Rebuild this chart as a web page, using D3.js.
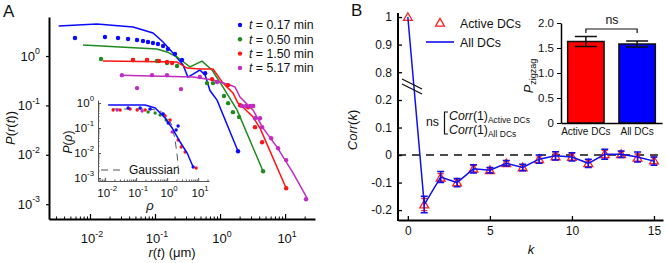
<!DOCTYPE html>
<html><head><meta charset="utf-8">
<script src="https://cdn.jsdelivr.net/npm/d3@7"></script>
<style>body{margin:0;background:#fff}svg{display:block;font-family:Arial,"Liberation Sans",sans-serif}</style>
</head><body><svg id="c" width="667" height="263"></svg>
<script>
// ---------------- DATA ----------------
const seriesLabels = ["0.17", "0.50", "1.50", "5.17"];
const seriesColors = ["#0a0aff", "#1f8a1f", "#ff1414", "#c02cc0"];
const lineR = [
  [0.0033,0.0128,0.046,0.093,0.133,0.189,0.27,0.32,0.385,0.49,0.59,0.70,0.90,1.89],
  [0.0078,0.107,0.153,0.218,0.345,0.528,0.753,1.11,1.83,4.59],
  [0.0158,0.218,0.31,0.49,0.78,1.11,1.58,1.89,2.26,3.22,4.12,10.4],
  [0.029,0.385,0.78,1.43,1.70,2.03,3.22,4.59,7.53,13.3,21.8]
];
const lineP = [
  [4.06,4.46,3.87,2.93,1.92,1.15,0.66,0.375,0.43,0.52,0.41,0.20,0.128,0.0118],
  [1.67,1.39,1.21,0.955,0.60,0.79,0.52,0.235,0.080,0.00465],
  [0.79,0.755,0.57,0.545,0.545,0.283,0.178,0.111,0.092,0.058,0.0347,0.0021],
  [0.41,0.375,0.326,0.258,0.235,0.147,0.080,0.0347,0.0143,0.00424,0.00132]
];
const dotR = [
  [0.00588,0.0170,0.0270,0.0385,0.0529,0.0653,0.078,0.093,0.111,0.133,0.158,0.203,0.26,0.59,1.89],
  [0.0148,0.0459,0.0753,0.107,0.153,0.218,0.63,0.78,1.15,1.33,1.58,1.96,4.59],
  [0.0459,0.0753,0.115,0.153,0.183,0.753,1.33,2.03,2.70,3.22,3.45,4.43,10.4],
  [0.031,0.0529,0.09,0.153,0.251,0.49,0.90,2.18,2.51,2.9,3.22,3.45,4.12,4.43,6.1,7.8,10.4,21]
];
const dotP = [
  [2.32,2.43,2.32,2.21,2.11,2.01,1.92,1.83,1.75,1.60,1.39,1.10,0.83,0.45,0.0118],
  [0.87,0.83,0.83,0.79,0.72,0.63,0.283,0.283,0.155,0.111,0.073,0.058,0.00465],
  [0.83,0.83,0.79,0.755,0.72,0.341,0.258,0.101,0.092,0.097,0.0363,0.018,0.0021],
  [0.41,0.224,0.41,0.41,0.214,0.375,0.297,0.097,0.097,0.097,0.097,0.055,0.055,0.0363,0.0217,0.0136,0.0078,0.00126]
];
const mainXTicks = [0.01, 0.1, 1, 10];
const mainYTicks = [0.001, 0.01, 0.1, 1];
const mainXExp = ["-2", "-1", "0", "1"];
const mainYExp = ["-3", "-2", "-1", "0"];

// inset (P(rho))
const insetLineRho = [0.0125,0.195,0.41,0.86,1.45,2.62,4.42,6.9];
const insetLineP   = [0.83,0.83,0.63,0.25,0.1,0.0275,0.01,0.00275];
const gaussRho = [0.0168,0.283,0.594,1.0,1.45,1.81,2.1,2.26];
const gaussP   = [0.575,0.575,0.48,0.30,0.12,0.033,0.0083,0.00275];
const insetDotRho = [0.0181,0.0305,0.064,0.108,0.195,0.86,1.25,2.26,2.83,3.8,8.6,
                     0.0552,0.135,0.283,0.743,1.08,1.95,2.26,6.9,
                     0.244,0.41,0.594,0.93,
                     0.0244,0.156,1.45];
const insetDotP = [0.525,0.525,0.575,0.525,0.525,0.30,0.209,0.033,0.0174,0.011,0.0025,
                   0.63,0.63,0.575,0.363,0.158,0.083,0.12,0.00275,
                   0.437,0.40,0.33,0.209,
                   0.525,0.48,0.069];
const insetDotSeries = [2,2,2,2,2,2,2,2,2,2,2, 0,0,0,0,0,0,0,0, 1,1,1,1, 3,3,3];
const insetTicks = [0.01, 0.1, 1, 10];
const insetYTicks = [0.001, 0.01, 0.1, 1];
const insetXExp = ["-2", "-1", "0", "1"];
const insetYExp = ["-3", "-2", "-1", "0"];

// panel B
const kVals = [0,1,2,3,4,5,6,7,8,9,10,11,12,13,14,15];
const corrAll    = [1.0,-0.18,-0.08,-0.10,-0.05,-0.055,-0.03,-0.045,-0.015,-0.003,-0.007,-0.03,0.003,0.003,-0.007,-0.022];
const errAll     = [0,0.03,0.02,0.015,0.015,0.01,0.01,0.012,0.015,0.015,0.015,0.015,0.018,0.012,0.018,0.015];
const corrActive = [1.0,-0.18,-0.082,-0.10,-0.05,-0.055,-0.03,-0.045,-0.015,-0.005,-0.007,-0.03,0.003,0.003,-0.01,-0.02];
const errActive  = [0,0.022,0.015,0.012,0.012,0.008,0.008,0.01,0.012,0.012,0.012,0.012,0.014,0.01,0.014,0.012];
const upperTicks = [0.8, 0.9, 1];
const lowerTicks = [-0.2, -0.1, 0, 0.1, 0.2];
const xTicksB = [0, 5, 10, 15];
const barCats = ["Active DCs", "All DCs"];
const barVals = [1.63, 1.58];
const barErr  = [0.10, 0.06];
const barColors = ["#ff0000", "#0000ff"];
const barTicks = [0, 0.5, 1.0, 1.5, 2.0];

// ---------------- DRAW ----------------
const svg = d3.select("#c");
svg.append("rect").attr("width", 667).attr("height", 263).attr("fill", "#fff");

function supLabel(g, x, y, base, exp, fs, anchor) {
  const t = g.append("text").attr("x", x).attr("y", y).attr("text-anchor", anchor)
    .attr("font-size", fs).attr("fill", "#111");
  t.append("tspan").text(base);
  t.append("tspan").attr("font-size", fs * 0.68).attr("dy", -fs * 0.48).text(exp);
  return t;
}
function minorLog(lo, hi) {
  const out = [];
  for (let e = -4; e <= 2; e++) for (let m = 2; m <= 9; m++) {
    const v = m * Math.pow(10, e);
    if (v > lo && v < hi) out.push(v);
  }
  return out;
}

// ---- Panel A main ----
const xA = d3.scaleLog().domain([Math.pow(10, -2.63), Math.pow(10, 1.46)]).range([49, 315]);
const yA = d3.scaleLog().domain([Math.pow(10, -3.3), Math.pow(10, 0.79)]).range([219, 17]);
const gA = svg.append("g");

const gxA = gA.append("g").attr("transform", "translate(0,219)")
  .call(d3.axisBottom(xA).tickValues(mainXTicks).tickSizeInner(-5).tickSizeOuter(0).tickFormat(""));
gxA.select(".domain").attr("stroke-width", 2);
gxA.selectAll(".tick line").attr("stroke-width", 1.2);
const gxAm = gA.append("g").attr("transform", "translate(0,219)")
  .call(d3.axisBottom(xA).tickValues(minorLog(xA.domain()[0], xA.domain()[1])).tickSizeInner(-2.5).tickSizeOuter(0).tickFormat(""));
gxAm.select(".domain").remove();

const gyA = gA.append("g").attr("transform", "translate(49,0)")
  .call(d3.axisLeft(yA).tickValues(mainYTicks).tickSizeInner(3).tickSizeOuter(0).tickFormat(""));
gyA.select(".domain").attr("stroke-width", 2);
gyA.selectAll(".tick line").attr("stroke-width", 1.2);

mainXTicks.forEach((v, i) => supLabel(gA, xA(v) + 2, 243, "10", mainXExp[i], 13, "middle"));
mainYTicks.forEach((v, i) => supLabel(gA, 40, yA(v) + 4.5, "10", mainYExp[i], 13, "end"));

// axis labels A
const ylabA = gA.append("text").attr("transform", "translate(15,128) rotate(-90)")
  .attr("text-anchor", "middle").attr("font-size", 13).attr("fill", "#111");
ylabA.append("tspan").attr("font-style", "italic").text("P");
ylabA.append("tspan").text("(");
ylabA.append("tspan").attr("font-style", "italic").text("r");
ylabA.append("tspan").text("(");
ylabA.append("tspan").attr("font-style", "italic").text("t");
ylabA.append("tspan").text("))");

const xlabA = gA.append("text").attr("x", 172).attr("y", 257)
  .attr("text-anchor", "middle").attr("font-size", 13).attr("fill", "#111");
xlabA.append("tspan").attr("font-style", "italic").text("r");
xlabA.append("tspan").text("(");
xlabA.append("tspan").attr("font-style", "italic").text("t");
xlabA.append("tspan").text(") (μm)");

gA.append("text").attr("x", 3).attr("y", 17).attr("font-size", 17).attr("fill", "#111").text("A");

// lines & dots
const lineA = d3.line().x(d => xA(d[0])).y(d => yA(d[1]));
seriesLabels.forEach((s, i) => {
  const pts = lineR[i].map((r, j) => [r, lineP[i][j]]);
  gA.append("path").attr("d", lineA(pts)).attr("fill", "none")
    .attr("stroke", seriesColors[i]).attr("stroke-width", 1.5);
});
seriesLabels.forEach((s, i) => {
  gA.append("g").selectAll("circle").data(dotR[i].map((r, j) => [r, dotP[i][j]])).join("circle")
    .attr("cx", d => xA(d[0])).attr("cy", d => yA(d[1])).attr("r", 2.2)
    .attr("fill", seriesColors[i]);
});

// legend A
seriesLabels.forEach((s, i) => {
  const y = 25 + i * 14.3;
  gA.append("circle").attr("cx", 240).attr("cy", y).attr("r", 2.2).attr("fill", seriesColors[i]);
  const t = gA.append("text").attr("x", 249).attr("y", y + 4.3).attr("font-size", 12.3).attr("fill", "#111");
  t.append("tspan").attr("font-style", "italic").text("t");
  t.append("tspan").text(" = " + s + " min");
});

// ---- Inset A ----
const xI = d3.scaleLog().domain([Math.pow(10, -2.23), Math.pow(10, 1.35)]).range([98, 209]);
const yI = d3.scaleLog().domain([Math.pow(10, -3.12), Math.pow(10, 0.12)]).range([181, 100]);
const gI = svg.append("g");
const gxI = gI.append("g").attr("transform", "translate(0,181)")
  .call(d3.axisBottom(xI).tickValues(insetTicks).tickSizeInner(-3).tickSizeOuter(0).tickFormat(""));
const gxIm = gI.append("g").attr("transform", "translate(0,181)")
  .call(d3.axisBottom(xI).tickValues(minorLog(xI.domain()[0], xI.domain()[1])).tickSizeInner(-1.5).tickSizeOuter(0).tickFormat(""));
gxIm.select(".domain").remove();
const gyI = gI.append("g").attr("transform", "translate(98,0)")
  .call(d3.axisLeft(yI).tickValues(insetYTicks).tickSizeInner(-3).tickSizeOuter(0).tickFormat(""));
const gyIm = gI.append("g").attr("transform", "translate(98,0)")
  .call(d3.axisLeft(yI).tickValues(minorLog(yI.domain()[0], yI.domain()[1])).tickSizeInner(-1.5).tickSizeOuter(0).tickFormat(""));
gyIm.select(".domain").remove();
gI.selectAll(".domain").attr("stroke", "#555").attr("stroke-width", 1);
gI.selectAll(".tick line").attr("stroke", "#555");

insetTicks.forEach((v, i) => supLabel(gI, xI(v) + 2, 197, "10", insetXExp[i], 11.5, "middle"));
insetYTicks.forEach((v, i) => supLabel(gI, 94, yI(v) + 4, "10", insetYExp[i], 11.5, "end"));

const ylabI = gI.append("text").attr("transform", "translate(72,142) rotate(-90)")
  .attr("text-anchor", "middle").attr("font-size", 12).attr("fill", "#111");
ylabI.append("tspan").attr("font-style", "italic").text("P");
ylabI.append("tspan").text("(");
ylabI.append("tspan").attr("font-style", "italic").text("ρ");
ylabI.append("tspan").text(")");
gI.append("text").attr("x", 150).attr("y", 210).attr("text-anchor", "middle")
  .attr("font-size", 13).attr("font-style", "italic").attr("fill", "#111").text("ρ");

const lineI = d3.line().x(d => xI(d[0])).y(d => yI(d[1]));
gI.append("path").attr("d", lineI(gaussRho.map((r, j) => [r, gaussP[j]])))
  .attr("fill", "none").attr("stroke", "#555").attr("stroke-width", 1).attr("stroke-dasharray", "7,5");
gI.append("g").selectAll("circle").data(insetDotRho.map((r, j) => [r, insetDotP[j], insetDotSeries[j]])).join("circle")
  .attr("cx", d => xI(d[0])).attr("cy", d => yI(d[1])).attr("r", 1.7).attr("fill", d => seriesColors[d[2]]);
gI.append("path").attr("d", lineI(insetLineRho.map((r, j) => [r, insetLineP[j]])))
  .attr("fill", "none").attr("stroke", seriesColors[0]).attr("stroke-width", 1.5);
gI.append("line").attr("x1", 101).attr("x2", 124).attr("y1", 170).attr("y2", 170)
  .attr("stroke", "#555").attr("stroke-dasharray", "7,5");
gI.append("text").attr("x", 129).attr("y", 174).attr("font-size", 12).attr("fill", "#111").text("Gaussian");

// ---- Panel B ----
const gB = svg.append("g");
const xB = d3.scaleLinear().domain([-0.6, 15.55]).range([398, 663]);
const yLow = d3.scaleLinear().domain([-0.236, 0.24]).range([220, 89]);
const yUp = d3.scaleLinear().domain([0.75, 1.015]).range([86, 12.9]);
const yB = v => v >= 0.5 ? yUp(v) : yLow(v);
const fmtB = d => (d === 0 ? "0" : d === 1 ? "1" : d.toFixed(1));

gB.append("text").attr("x", 351).attr("y", 16).attr("font-size", 17).attr("fill", "#111").text("B");

const gyU = gB.append("g").attr("transform", "translate(398,0)")
  .call(d3.axisLeft(yUp).tickValues(upperTicks).tickSizeInner(-4).tickSizeOuter(0).tickPadding(6).tickFormat(fmtB));
const gyL = gB.append("g").attr("transform", "translate(398,0)")
  .call(d3.axisLeft(yLow).tickValues(lowerTicks).tickSizeInner(-4).tickSizeOuter(0).tickPadding(6).tickFormat(fmtB));
gB.selectAll(".domain").remove();
gB.append("line").attr("x1", 398).attr("x2", 398).attr("y1", 13).attr("y2", 221).attr("stroke", "#000").attr("stroke-width", 2);
const gxB = gB.append("g").attr("transform", "translate(0,220)")
  .call(d3.axisBottom(xB).tickValues(xTicksB).tickSizeInner(-4).tickSizeOuter(0).tickPadding(6));
gxB.select(".domain").attr("stroke-width", 2);
gB.selectAll(".tick text").attr("font-size", 12).attr("fill", "#111").attr("font-family", "Arial, Liberation Sans, sans-serif");
gB.selectAll(".tick line").attr("stroke-width", 1.3);

const ylabB = gB.append("text").attr("transform", "translate(357,130) rotate(-90)")
  .attr("text-anchor", "middle").attr("font-size", 13).attr("fill", "#111");
ylabB.append("tspan").attr("font-style", "italic").text("Corr");
ylabB.append("tspan").text("(");
ylabB.append("tspan").attr("font-style", "italic").text("k");
ylabB.append("tspan").text(")");
gB.append("text").attr("x", xB(7.5)).attr("y", 254).attr("text-anchor", "middle")
  .attr("font-size", 13).attr("font-style", "italic").attr("fill", "#111").text("k");

// zero line
gB.append("line").attr("x1", 398).attr("x2", 663).attr("y1", yLow(0)).attr("y2", yLow(0))
  .attr("stroke", "#111").attr("stroke-width", 1.5).attr("stroke-dasharray", "8,6");

// active error bars (red)
kVals.forEach((k, i) => {
  if (errActive[i] === 0) return;
  const x = xB(k), y1 = yB(corrActive[i] - errActive[i]), y2 = yB(corrActive[i] + errActive[i]);
  gB.append("path").attr("d", `M${x},${y1}V${y2}M${x - 3},${y1}H${x + 3}M${x - 3},${y2}H${x + 3}`)
    .attr("stroke", "#ff2020").attr("stroke-width", 1.4).attr("fill", "none");
});
// red triangles
const tri = d3.symbol().type(d3.symbolTriangle).size(34);
gB.append("g").selectAll("path").data(kVals).join("path")
  .attr("d", tri).attr("transform", (k, i) => `translate(${xB(k)},${yB(corrActive[i]) + 0.8})`)
  .attr("fill", "none").attr("stroke", "#ff2020").attr("stroke-width", 1.3);
// blue line
gB.append("path").attr("d", d3.line().x(k => xB(k)).y((k, i) => yB(corrAll[i]))(kVals))
  .attr("fill", "none").attr("stroke", "#1010ee").attr("stroke-width", 1.5);
// blue error bars
kVals.forEach((k, i) => {
  if (errAll[i] === 0) return;
  const x = xB(k), y1 = yB(corrAll[i] - errAll[i]), y2 = yB(corrAll[i] + errAll[i]);
  gB.append("path").attr("d", `M${x},${y1}V${y2}M${x - 3.5},${y1}H${x + 3.5}M${x - 3.5},${y2}H${x + 3.5}`)
    .attr("stroke", "#1010ee").attr("stroke-width", 1.5).attr("fill", "none");
});
// break marks on the line
[0, 5].forEach(off => {
  gB.append("line").attr("x1", 402).attr("y1", 79 + off).attr("x2", 422).attr("y2", 89 + off)
    .attr("stroke", "#111").attr("stroke-width", 1.3);
});

// legend B
gB.append("path").attr("d", tri).attr("transform", "translate(440,23.5)")
  .attr("fill", "none").attr("stroke", "#ff2020").attr("stroke-width", 1.3);
gB.append("text").attr("x", 460).attr("y", 27.5).attr("font-size", 12.3).attr("fill", "#111").text("Active DCs");
gB.append("line").attr("x1", 426).attr("x2", 454).attr("y1", 42).attr("y2", 42).attr("stroke", "#1010ee").attr("stroke-width", 1.6);
gB.append("text").attr("x", 460).attr("y", 46.5).attr("font-size", 12.3).attr("fill", "#111").text("All DCs");

// ns annotation
gB.append("text").attr("x", 426).attr("y", 126).attr("font-size", 12.3).attr("fill", "#111").text("ns");
gB.append("path").attr("d", "M448,112H444.5V134H448").attr("fill", "none").attr("stroke", "#111").attr("stroke-width", 1.2);
[["Active DCs", 120], ["All DCs", 134]].forEach(([sub, y]) => {
  const t = gB.append("text").attr("x", 449).attr("y", y).attr("font-size", 12.3).attr("fill", "#111");
  t.append("tspan").attr("font-style", "italic").text("Corr");
  t.append("tspan").text("(1)");
  t.append("tspan").attr("font-size", 8.5).attr("dy", 2.5).text(sub);
});

// ---- Inset bar chart ----
const gBar = svg.append("g");
const xBar = d3.scaleBand().domain(barCats).range([561, 662]).paddingInner(0.29).paddingOuter(0.13);
const yBar = d3.scaleLinear().domain([0, 2]).range([123, 23]);
gBar.selectAll("rect").data(barCats).join("rect")
  .attr("x", d => xBar(d)).attr("width", xBar.bandwidth())
  .attr("y", (d, i) => yBar(barVals[i])).attr("height", (d, i) => yBar(0) - yBar(barVals[i]))
  .attr("fill", (d, i) => barColors[i]).attr("stroke", "#111").attr("stroke-width", 1.5);
barCats.forEach((c, i) => {
  const x = xBar(c) + xBar.bandwidth() / 2, y1 = yBar(barVals[i] - barErr[i]), y2 = yBar(barVals[i] + barErr[i]);
  gBar.append("path").attr("d", `M${x},${y1}V${y2}M${x - 11},${y1}H${x + 11}M${x - 11},${y2}H${x + 11}`)
    .attr("stroke", "#111").attr("stroke-width", 1.5).attr("fill", "none");
});
const gyBar = gBar.append("g").attr("transform", "translate(561,0)")
  .call(d3.axisLeft(yBar).tickValues(barTicks).tickSizeInner(4).tickSizeOuter(0).tickPadding(3)
    .tickFormat(d => d === 0 ? "0" : d.toFixed(1)));
gyBar.select(".domain").attr("stroke-width", 1.5);
const gxBar = gBar.append("g").attr("transform", "translate(0,123)")
  .call(d3.axisBottom(xBar).tickSize(0).tickPadding(5));
gxBar.select(".domain").attr("stroke-width", 1.5);
gBar.selectAll(".tick text").attr("fill", "#111").attr("font-family", "Arial, Liberation Sans, sans-serif");
gyBar.selectAll(".tick text").attr("font-size", 11.5);
gxBar.selectAll(".tick text").attr("font-size", 10);

const pz = gBar.append("text").attr("transform", "translate(533,76) rotate(-90)")
  .attr("text-anchor", "middle").attr("font-size", 13).attr("fill", "#111");
pz.append("tspan").attr("font-style", "italic").text("P");
pz.append("tspan").attr("font-size", 9).attr("dy", 3).text("zigzag");

gBar.append("path").attr("d", `M${xBar(barCats[0]) + xBar.bandwidth() / 2},33V29H${xBar(barCats[1]) + xBar.bandwidth() / 2}V33`)
  .attr("fill", "none").attr("stroke", "#111").attr("stroke-width", 1.2);
gBar.append("text").attr("x", 612).attr("y", 24).attr("text-anchor", "middle").attr("font-size", 12.3).attr("fill", "#111").text("ns");
</script></body></html>
